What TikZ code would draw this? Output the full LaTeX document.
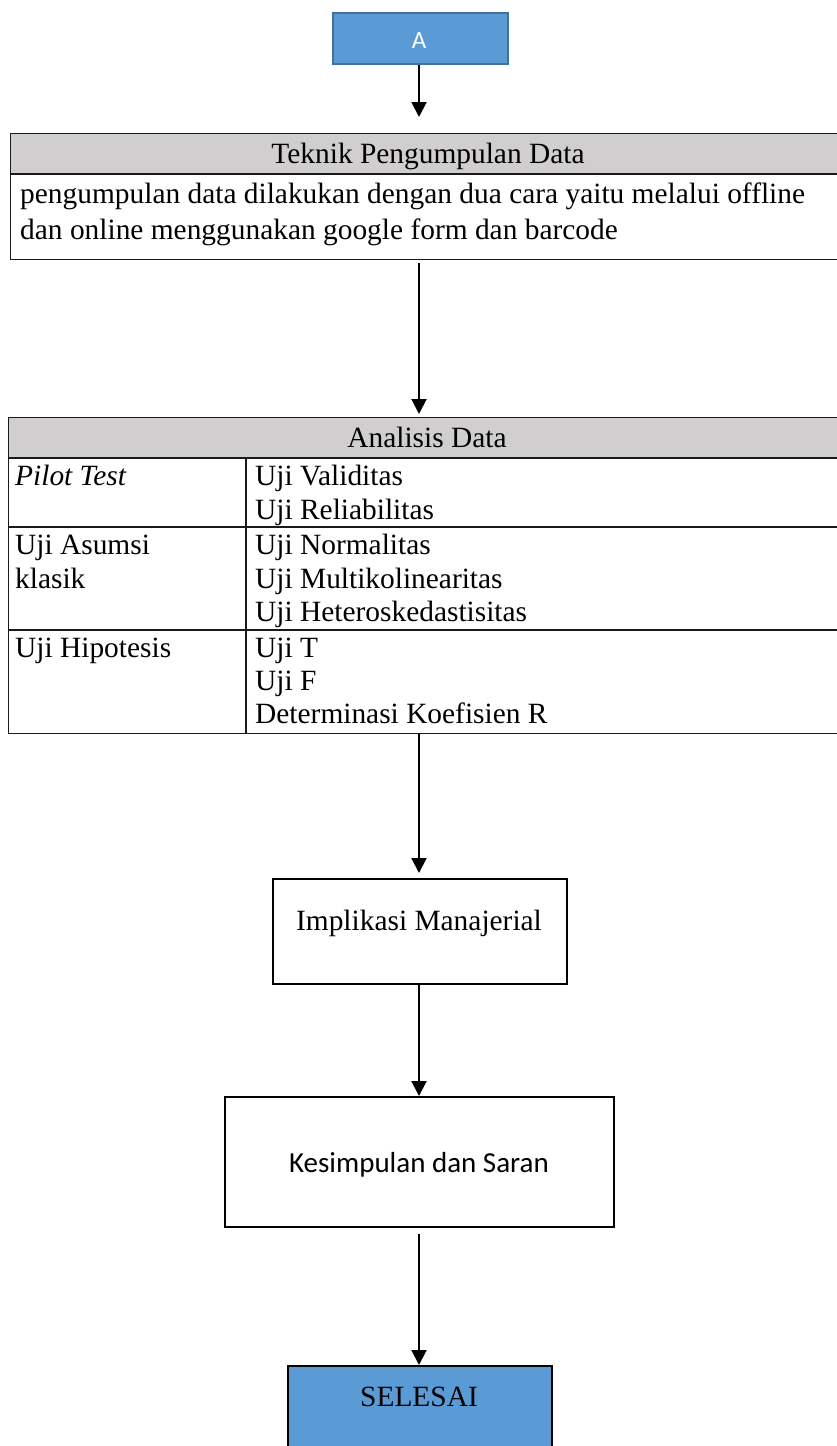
\documentclass[tikz,border=0pt]{standalone}
\usepackage{fontspec}
\setmainfont{Liberation Serif}
\newfontfamily\calibri{Carlito}
\usetikzlibrary{arrows.meta}
\definecolor{boxblue}{HTML}{5B9BD5}
\definecolor{boxblueline}{HTML}{41719C}
\definecolor{headgray}{HTML}{D0CECE}
\definecolor{tabline}{HTML}{1A1A1A}
\begin{document}
\begin{tikzpicture}[x=1pt,y=-1pt,
  conn/.style={line width=2pt,-{Triangle[width=15pt,length=15pt]}},
  txt/.style={inner sep=0pt,anchor=base west,font=\fontsize{29.4}{34}\selectfont},
  ctxt/.style={txt,anchor=base},
  frame/.style={draw=tabline,line width=1.2pt,inner sep=0pt,anchor=north west},
  procbox/.style={draw=black,line width=2pt,inner sep=0pt,anchor=north west,fill=white},
  termbox/.style={procbox,fill=boxblue}
]
\useasboundingbox (0,0) rectangle (836,1446);
\coordinate (axis) at (419,0);

% start box A
\node[fill=boxblue,draw=boxblueline,line width=1.5pt,inner sep=0pt,anchor=north west,
      minimum width=175pt,minimum height=51pt] (A) at (332,12) {};
\node[inner sep=0pt,anchor=base,font=\calibri\fontsize{25}{29}\selectfont,text=white] (tA) at (419,48) {A};

% Teknik Pengumpulan Data table
\fill[headgray] (10,133) rectangle (847,174);
\node[frame,minimum width=837pt,minimum height=126pt] (teknik) at (10,133) {};
\draw[tabline,line width=1.2pt] (10,174) -- (847,174);
\node[ctxt] (tTeknik) at (428,163) {Teknik Pengumpulan Data};
\node[txt] (tTek1) at (20,203) {pengumpulan data dilakukan dengan dua cara yaitu melalui offline};
\node[txt] (tTek2) at (20,239) {dan online menggunakan google form dan barcode};

% Analisis Data table
\fill[headgray] (8,417) rectangle (847,458);
\node[frame,minimum width=839pt,minimum height=316pt] (analisis) at (8,417) {};
\draw[tabline,line width=1.2pt] (8,458) -- (847,458);
\draw[tabline,line width=1.2pt] (8,527) -- (847,527);
\draw[tabline,line width=1.2pt] (8,630) -- (847,630);
\draw[tabline,line width=1.2pt] (246,458) -- (246,733);
\node[ctxt] (tAnalisis) at (427,447) {Analisis Data};
\node[txt] (tPilot) at (15,485) {\itshape Pilot Test};
\node[txt] (tVal) at (255,485) {Uji Validitas};
\node[txt] (tRel) at (255,519) {Uji Reliabilitas};
\node[txt] (tAsumsi) at (15,554) {Uji Asumsi};
\node[txt] (tKlasik) at (15,588) {klasik};
\node[txt] (tNorm) at (255,554) {Uji Normalitas};
\node[txt] (tMulti) at (255,588) {Uji Multikolinearitas};
\node[txt] (tHetero) at (255,621) {Uji Heteroskedastisitas};
\node[txt] (tHipo) at (15,657) {Uji Hipotesis};
\node[txt] (tUjiT) at (255,657) {Uji T};
\node[txt] (tUjiF) at (255,690) {Uji F};
\node[txt] (tDet) at (255,723) {Determinasi Koefisien R};

% Implikasi Manajerial
\node[procbox,minimum width=294pt,minimum height=105pt] (impl) at (272,878) {};
\node[ctxt] (tImpl) at (419,930) {Implikasi Manajerial};

% Kesimpulan dan Saran
\node[procbox,minimum width=389pt,minimum height=130pt] (kes) at (224,1096) {};
\node[inner sep=0pt,anchor=base,font=\calibri\fontsize{29}{34}\selectfont] (tKes) at (419,1172) {Kesimpulan dan Saran};

% SELESAI
\node[termbox,minimum width=264pt,minimum height=100pt] (selesai) at (287,1365) {};
\node[ctxt] (tSel) at (419,1406) {SELESAI};

% connectors
\draw[conn,shorten >=16pt] (axis |- A.south) -- (axis |- teknik.north);
\draw[conn,shorten <=3pt,shorten >=3pt] (axis |- teknik.south) -- (axis |- analisis.north);
\draw[conn,shorten >=5pt] (axis |- analisis.south) -- (axis |- impl.north);
\draw[conn] (axis |- impl.south) -- (axis |- kes.north);
\draw[conn,shorten <=6pt] (axis |- kes.south) -- (axis |- selesai.north);
\end{tikzpicture}
\end{document}
